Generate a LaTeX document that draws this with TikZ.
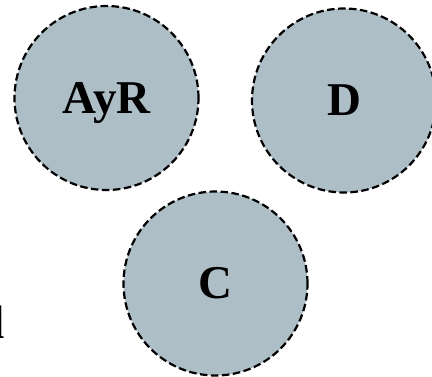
\documentclass[tikz,border=0pt]{standalone}
\usepackage{fontspec}
\setmainfont{Liberation Serif}
\definecolor{setgray}{RGB}{173,190,198}
\tikzset{
 setcirc/.style={circle,draw=black,fill=setgray,line width=2.2pt,dash pattern=on 7.5pt off 3.5pt,
  minimum size=184pt,inner sep=0pt,font=\bfseries\fontsize{47}{50}\selectfont,
  text height=30pt,text depth=0pt},
 sidetext/.style={inner sep=0pt,font=\bfseries\fontsize{47}{50}\selectfont}
}
\begin{document}
\begin{tikzpicture}[x=1pt,y=-1pt]
 \useasboundingbox (0,0) rectangle (432,376);
 \node[setcirc] (ayr) at (106.5,98) {AyR};
 \node[setcirc] (d) at (344,100.5) {D};
 \node[setcirc] (c) at (215.5,283.5) {C};
 \node[sidetext,anchor=base east] (cut) at (5,338) {d};
\end{tikzpicture}
\end{document}
